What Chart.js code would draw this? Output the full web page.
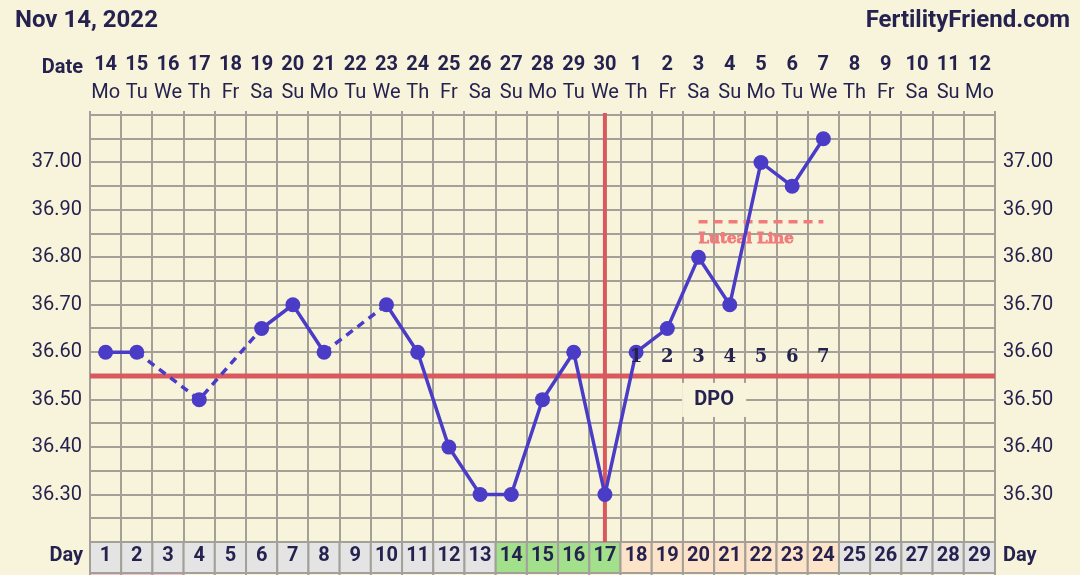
<!DOCTYPE html>
<html>
<head>
<meta charset="utf-8">
<script src="https://cdn.jsdelivr.net/npm/chart.js@4/dist/chart.umd.min.js"></script>
<style>
  html, body { margin: 0; padding: 0; background: #f8f4dc; }
  #wrap { width: 1080px; height: 575px; }
</style>
</head>
<body>
<div id="wrap"><canvas id="c" width="1080" height="575"></canvas></div>
<script>
// ---- data ----
const cycleDays = ['1','2','3','4','5','6','7','8','9','10','11','12','13','14','15','16','17','18','19','20','21','22','23','24','25','26','27','28','29'];
const dates = ['14','15','16','17','18','19','20','21','22','23','24','25','26','27','28','29','30','1','2','3','4','5','6','7','8','9','10','11','12'];
const weekdays = ['Mo','Tu','We','Th','Fr','Sa','Su','Mo','Tu','We','Th','Fr','Sa','Su','Mo','Tu','We','Th','Fr','Sa','Su','Mo','Tu','We','Th','Fr','Sa','Su','Mo'];
const temps = [36.60, 36.60, null, 36.50, null, 36.65, 36.70, 36.60, null, 36.70, 36.60, 36.40, 36.30, 36.30, 36.50, 36.60, 36.30, 36.60, 36.65, 36.80, 36.70, 37.00, 36.95, 37.05, null, null, null, null, null];
const fertileDays = [14, 15, 16, 17];
const lutealDays = [18, 19, 20, 21, 22, 23, 24];
const periodDays = [1, 2, 3];
const dpoLabels = ['1','2','3','4','5','6','7'];
const dpoStartDay = 18;
const coverline = 36.55;
const ovulationDay = 17;
const lutealLineValue = 36.875;
const lutealLineDays = [20, 24];
const yMin = 36.20, yMax = 37.10, yStep = 0.05;
const titleLeft = 'Nov 14, 2022';
const titleRight = 'FertilityFriend.com';

// ---- styles ----
const BG = '#f8f4dc';
const GRID = '#a3a09a';
const NAVY = '#26224f';
const BLUE = '#4a3cc7';
const RED = '#d8595e';
const SALMON = '#f27a7a';
const FONT = 'Roboto';

function yLabel(v) {
  const c = Math.round(v * 100);
  return (c % 10 === 0 && c >= 3630 && c <= 3700) ? (c / 100).toFixed(2) : '';
}

const decor = {
  id: 'decor',
  beforeDraw(chart) {
    const ctx = chart.ctx, x = chart.scales.x, ca = chart.chartArea;
    ctx.save();
    ctx.fillStyle = BG;
    ctx.fillRect(0, 0, chart.width, chart.height);
    const w = x.getPixelForValue(1) - x.getPixelForValue(0);
    cycleDays.forEach((d, i) => {
      const day = i + 1;
      const l = x.getPixelForValue(i) - w / 2;
      let fill = '#e4e4e4';
      if (fertileDays.includes(day)) fill = '#a3e08c';
      else if (lutealDays.includes(day)) fill = '#fde3c8';
      ctx.fillStyle = fill;
      ctx.fillRect(l, ca.bottom, w, 31);
      ctx.fillStyle = periodDays.includes(day) ? '#f2c4cc' : BG;
      ctx.fillRect(l, ca.bottom + 31, w, 20);
      ctx.strokeStyle = GRID;
      ctx.lineWidth = 2;
      ctx.strokeRect(l, ca.bottom, w, 31);
      ctx.strokeRect(l, ca.bottom + 31, w, 20);
    });
    ctx.restore();
  },
  beforeDatasetsDraw(chart) {
    const ctx = chart.ctx, x = chart.scales.x, y = chart.scales.y, ca = chart.chartArea;
    ctx.save();
    // DPO label box
    const cy = y.getPixelForValue(coverline);
    const bx = (x.getPixelForValue(lutealDays[2] - 1) + x.getPixelForValue(lutealDays[3] - 1)) / 2;
    ctx.fillStyle = BG;
    ctx.fillRect(bx - 32, cy + 7, 64, 34);
    ctx.fillStyle = NAVY;
    ctx.font = 'bold 20px ' + FONT;
    ctx.textAlign = 'center';
    ctx.textBaseline = 'middle';
    ctx.fillText('DPO', bx, cy + 24);
    // coverline
    ctx.strokeStyle = RED;
    ctx.lineWidth = 5;
    ctx.beginPath();
    ctx.moveTo(ca.left, cy);
    ctx.lineTo(ca.right, cy);
    ctx.stroke();
    // ovulation line
    const ox = x.getPixelForValue(ovulationDay - 1);
    ctx.lineWidth = 4;
    ctx.beginPath();
    ctx.moveTo(ox, ca.top - 2);
    ctx.lineTo(ox, ca.bottom);
    ctx.stroke();
    // luteal line
    const ly = y.getPixelForValue(lutealLineValue);
    const lx0 = x.getPixelForValue(lutealLineDays[0] - 1);
    const lx1 = x.getPixelForValue(lutealLineDays[1] - 1);
    ctx.strokeStyle = SALMON;
    ctx.lineWidth = 3.5;
    ctx.setLineDash([9, 6]);
    ctx.beginPath();
    ctx.moveTo(lx0, ly);
    ctx.lineTo(lx1, ly);
    ctx.stroke();
    ctx.setLineDash([]);
    ctx.fillStyle = SALMON;
    ctx.strokeStyle = SALMON;
    ctx.lineWidth = 0.8;
    ctx.font = 'bold 15px "DejaVu Serif"';
    ctx.textAlign = 'left';
    ctx.fillText('Luteal Line', lx0, ly + 17);
    ctx.strokeText('Luteal Line', lx0, ly + 17);
    ctx.restore();
  },
  afterDatasetsDraw(chart) {
    const ctx = chart.ctx, x = chart.scales.x, y = chart.scales.y;
    ctx.save();
    const cy = y.getPixelForValue(coverline);
    ctx.fillStyle = NAVY;
    ctx.font = 'bold 18px "DejaVu Serif"';
    ctx.textAlign = 'center';
    ctx.textBaseline = 'middle';
    dpoLabels.forEach((t, i) => {
      ctx.fillText(t, x.getPixelForValue(dpoStartDay - 1 + i), cy - 19);
    });
    ctx.restore();
  },
  afterDraw(chart) {
    const ctx = chart.ctx, ca = chart.chartArea;
    ctx.save();
    ctx.fillStyle = NAVY;
    ctx.textBaseline = 'middle';
    ctx.font = 'bold 24px ' + FONT;
    ctx.textAlign = 'left';
    ctx.fillText(titleLeft, 15, 21);
    ctx.textAlign = 'right';
    ctx.fillText(titleRight, 1070, 21);
    ctx.font = 'bold 20px ' + FONT;
    ctx.textAlign = 'right';
    ctx.fillText('Date', ca.left - 7, 68);
    ctx.fillText('Day', ca.left - 7, ca.bottom + 14);
    ctx.textAlign = 'left';
    ctx.fillText('Day', ca.right + 8, ca.bottom + 14);
    ctx.restore();
  }
};

new Chart(document.getElementById('c'), {
  type: 'line',
  data: {
    labels: cycleDays,
    datasets: [{
      data: temps,
      borderColor: BLUE,
      backgroundColor: BLUE,
      borderWidth: 3.5,
      pointRadius: 7.5,
      pointHoverRadius: 7.5,
      pointBorderWidth: 0,
      pointBackgroundColor: BLUE,
      spanGaps: true,
      tension: 0,
      segment: {
        borderDash: ctx => ((ctx.p0.skip || ctx.p1.skip) ? [8, 6] : undefined)
      }
    }]
  },
  options: {
    responsive: false,
    devicePixelRatio: 1,
    animation: false,
    layout: { padding: { top: 47, left: 0, right: 0, bottom: 0 } },
    plugins: { legend: { display: false }, tooltip: { enabled: false }, title: { display: false } },
    scales: {
      x: {
        type: 'category',
        position: 'bottom',
        offset: true,
        grid: { offset: true, color: GRID, lineWidth: 2, drawTicks: false },
        border: { display: false },
        ticks: { color: NAVY, font: { family: FONT, size: 20, weight: 'bold' }, padding: 2, autoSkip: false, maxRotation: 0 },
        afterFit: s => { s.height = 33; }
      },
      xw: {
        type: 'category',
        axis: 'x',
        position: 'top',
        weight: 1,
        labels: weekdays,
        offset: true,
        grid: { display: true, offset: true, drawOnChartArea: false, drawTicks: true, tickLength: 4, color: GRID, lineWidth: 2 },
        border: { display: false },
        ticks: { color: NAVY, font: { family: FONT, size: 20 }, padding: 6, autoSkip: false, maxRotation: 0 },
        afterFit: s => { s.height = 38; }
      },
      xd: {
        type: 'category',
        axis: 'x',
        position: 'top',
        weight: 2,
        labels: dates,
        offset: true,
        grid: { display: false, drawTicks: false },
        border: { display: false },
        ticks: { color: NAVY, font: { family: FONT, size: 20, weight: 'bold' }, padding: 0, autoSkip: false, maxRotation: 0 },
        afterFit: s => { s.height = 30; }
      },
      y: {
        type: 'linear',
        position: 'left',
        min: yMin, max: yMax,
        grid: { color: GRID, lineWidth: 2, drawTicks: false },
        border: { display: true, color: GRID, width: 2 },
        ticks: { stepSize: yStep, maxTicksLimit: 40, autoSkip: false, color: NAVY, font: { family: FONT, size: 20 }, padding: 8, callback: v => yLabel(v) },
        afterFit: s => { s.width = 90; }
      },
      y2: {
        type: 'linear',
        position: 'right',
        min: yMin, max: yMax,
        grid: { drawOnChartArea: false, drawTicks: false },
        border: { display: true, color: GRID, width: 2 },
        ticks: { stepSize: yStep, maxTicksLimit: 40, autoSkip: false, color: NAVY, font: { family: FONT, size: 20 }, padding: 8, callback: v => yLabel(v) },
        afterFit: s => { s.width = 85; }
      }
    }
  },
  plugins: [decor]
});
</script>
</body>
</html>
